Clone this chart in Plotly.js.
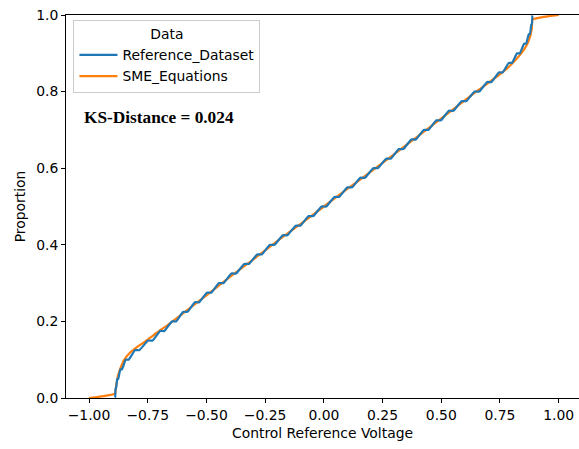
<!DOCTYPE html>
<html>
<head>
<meta charset="utf-8">
<script src="https://cdn.plot.ly/plotly-3.0.1.min.js"></script>
<style>
html,body{margin:0;padding:0;overflow:hidden;background:#fff;}
#chart{width:579px;height:449px;}
</style>
</head>
<body>
<div id="chart"></div>
<script>
// Reference_Dataset ECDF step levels
const refX = [-0.889, -0.8865, -0.878, -0.864, -0.839, -0.796, -0.738, -0.688, -0.638, -0.590,
              -0.540, -0.489, -0.437, -0.384, -0.329, -0.274, -0.220, -0.165, -0.110, -0.055,
               0.000, 0.055, 0.110, 0.165, 0.220, 0.275, 0.329, 0.382, 0.435, 0.489,
               0.542, 0.596, 0.652, 0.705, 0.754, 0.795, 0.829, 0.858, 0.876, 0.885, 0.889];
const refP = [0.000, 0.025, 0.050, 0.075, 0.100, 0.125, 0.150, 0.175, 0.200, 0.225,
              0.250, 0.275, 0.300, 0.325, 0.350, 0.375, 0.400, 0.425, 0.450, 0.475,
              0.500, 0.525, 0.550, 0.575, 0.600, 0.625, 0.650, 0.675, 0.700, 0.725,
              0.750, 0.775, 0.800, 0.825, 0.850, 0.875, 0.900, 0.925, 0.950, 0.975, 1.000];

// SME_Equations smooth CDF
const smeX = [-1.000, -0.960, -0.920, -0.889, -0.886, -0.882, -0.876, -0.866, -0.851, -0.828,
              -0.796, -0.760, -0.710, -0.660, -0.600, -0.500, -0.400, -0.300, -0.200, -0.100,
               0.000, 0.100, 0.200, 0.300, 0.400, 0.500, 0.600, 0.660, 0.710, 0.760,
               0.800, 0.830, 0.855, 0.870, 0.880, 0.886, 0.889, 0.920, 0.960, 1.000];
const smeP = [0.000, 0.003, 0.007, 0.012, 0.025, 0.040, 0.060, 0.078, 0.099, 0.117,
              0.133, 0.148, 0.171, 0.193, 0.221, 0.268, 0.316, 0.362, 0.409, 0.454,
              0.500, 0.546, 0.591, 0.637, 0.683, 0.730, 0.777, 0.805, 0.827, 0.850,
              0.872, 0.892, 0.912, 0.929, 0.948, 0.968, 0.988, 0.993, 0.997, 1.000];

const xTickVals = [-1.0, -0.75, -0.5, -0.25, 0.0, 0.25, 0.5, 0.75, 1.0];
const xTickText = ["\u22121.00", "\u22120.75", "\u22120.50", "\u22120.25", "0.00", "0.25", "0.50", "0.75", "1.00"];
const yTickVals = [0.0, 0.2, 0.4, 0.6, 0.8, 1.0];
const yTickText = ["0.0", "0.2", "0.4", "0.6", "0.8", "1.0"];

const seriesNames = ["Reference_Dataset", "SME_Equations"];
const ksText = "KS-Distance = 0.024";

// build clustered-step path for the reference ECDF, centred on the levels
const stepX = [refX[0]], stepY = [refP[0]];
for (let k = 0; k < refX.length - 1; k++) {
  const m = (refX[k] + refX[k+1]) / 2, h = 0.32 * (refX[k+1] - refX[k]);
  stepX.push(m - h); stepY.push(refP[k]);
  stepX.push(m + h); stepY.push(refP[k+1]);
}
stepX.push(refX[refX.length-1]); stepY.push(refP[refP.length-1]);

const font = "DejaVu Sans, sans-serif";
const fs = 13.9;
const traces = [
  {x: smeX, y: smeP, type: "scatter", mode: "lines", name: seriesNames[1],
   line: {color: "#ff7f0e", width: 2.2, shape: "spline", smoothing: 0.6}, legendrank: 2},
  {x: stepX, y: stepY, type: "scatter", mode: "lines", name: seriesNames[0],
   line: {color: "#1f77b4", width: 2.2, shape: "spline", smoothing: 0.4}, legendrank: 1}
];

const layout = {
  width: 579, height: 449,
  margin: {l: 66, r: 0, t: 15, b: 51, pad: 0},
  paper_bgcolor: "#fff", plot_bgcolor: "#fff",
  font: {family: font, size: fs, color: "#000"},
  showlegend: true,
  legend: {
    x: 0.0145, y: 0.986, xanchor: "left", yanchor: "top",
    bgcolor: "rgba(255,255,255,0.8)", bordercolor: "#cccccc", borderwidth: 1,
    font: {family: font, size: fs, color: "#000"},
    title: {text: "Data", side: "top center", font: {family: font, size: fs, color: "#000"}},
    tracegroupgap: 0, itemwidth: 38
  },
  xaxis: {
    range: [-1.098, 1.0865], showgrid: false, zeroline: false,
    showline: true, linecolor: "#000", linewidth: 1, mirror: true,
    ticks: "outside", ticklen: 4, tickwidth: 1, tickcolor: "#000",
    tickvals: xTickVals, ticktext: xTickText,
    tickfont: {family: font, size: fs, color: "#000"},
    title: {text: "Control Reference Voltage", font: {family: font, size: fs, color: "#000"}, standoff: 6}
  },
  yaxis: {
    range: [0, 1], showgrid: false, zeroline: false,
    showline: true, linecolor: "#000", linewidth: 1, mirror: false,
    ticks: "outside", ticklen: 4, tickwidth: 1, tickcolor: "#000",
    tickvals: yTickVals, ticktext: yTickText,
    tickfont: {family: font, size: fs, color: "#000"},
    title: {text: "Proportion", font: {family: font, size: fs, color: "#000"}, standoff: 7}
  },
  annotations: [{
    text: "<b>" + ksText + "</b>", xref: "paper", yref: "paper",
    x: 0.031, y: 0.732, xanchor: "left", yanchor: "middle", showarrow: false,
    font: {family: "Liberation Serif, Times New Roman, serif", size: 17.3, color: "#000"}
  }]
};

Plotly.newPlot("chart", traces, layout, {displayModeBar: false, staticPlot: true});
</script>
</body>
</html>
